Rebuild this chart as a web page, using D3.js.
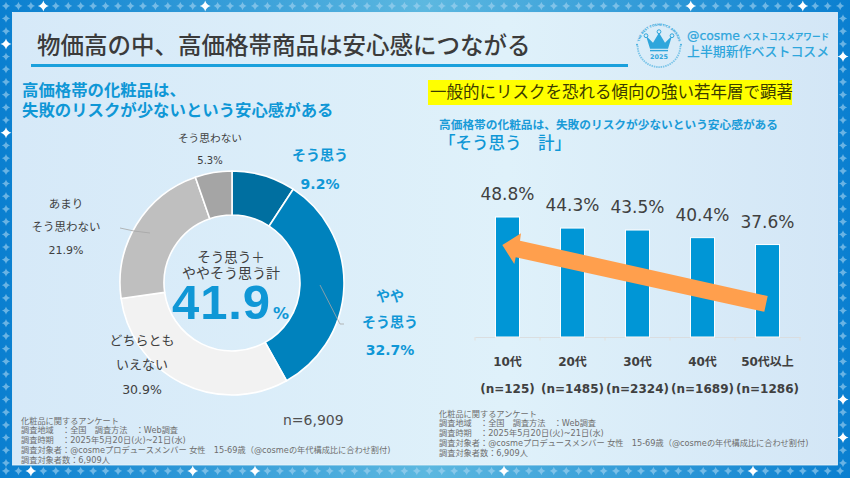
<!DOCTYPE html>
<html><head><meta charset="utf-8">
<script src="https://cdn.jsdelivr.net/npm/d3@7/dist/d3.min.js"></script>
<style>html,body{margin:0;padding:0;background:#fff}svg{display:block}text{font-family:"DejaVu Sans","Noto Sans CJK JP",sans-serif}</style>
</head><body><svg id="c" width="850" height="478"></svg>
<script>
const donutValues=[9.2,32.7,30.9,21.9,5.3];
const donutColors=["#006fa0","#0082bd","#f2f2f2","#bfbfbf","#a5a5a5"];
const ageLabels=["10代","20代","30代","40代","50代以上"];
const ageValues=[48.8,44.3,43.5,40.4,37.6];
const ageSamples=["(n=125)","(n=1485)","(n=2324)","(n=1689)","(n=1286)"];
const noteLines=["化粧品に関するアンケート","調査地域　：全国　調査方法　：Web調査","調査時期　：2025年5月20日(火)~21日(水)","調査対象者：@cosmeプロデュースメンバー 女性　15-69歳（@cosmeの年代構成比に合わせ割付)","調査対象者数：6,909人"];
const svg=d3.select("#c");
const defs=svg.append("defs");
function grad(id,stops){const g=defs.append("linearGradient").attr("id",id);stops.forEach(s=>g.append("stop").attr("offset",s[0]).attr("stop-color",s[1]));}
grad("frame",[[0,"#0a7fd0"],[.5,"#5db8e0"],[1,"#0a7fd0"]]);
grad("panel",[[0,"#d6e9f8"],[.6,"#dff1fa"],[1,"#d3e6f6"]]);
svg.append("rect").attr("width",850).attr("height",478).attr("fill","url(#frame)");
svg.append("rect").attr("x",12.5).attr("y",12.5).attr("width",825).attr("height",452.5).attr("fill","url(#panel)").attr("stroke","#eaf4fb").attr("stroke-width",.8);
function star(x,y,big){const r=big?5.5:4.2,k=.2;svg.append("path").attr("transform",`translate(${x},${y})`)
 .attr("d",`M0,${-r}Q${r*k},${-r*k} ${r},0Q${r*k},${r*k} 0,${r}Q${-r*k},${r*k} ${-r},0Q${-r*k},${-r*k} 0,${-r}Z`)
 .attr("fill",big?"#fff":"#a9d6f2").attr("opacity",big?1:.6);}
const near=(list,v,d)=>list.some(b=>Math.abs(b-v)<d);
d3.range(6,850,12.45).forEach(x=>{star(x,6,near([43,206,693,806],x,6.2));star(x,471,near([31,193,256,506,756],x,6.2));});
d3.range(18.5,466,12.7).forEach(y=>{star(6,y,near([45,135],y,6.3));star(843,y,near([57,394,432],y,6.3));});
function T(x,y,s,size,fill,opt={}){return svg.append("text").attr("x",x).attr("y",y).text(s).attr("font-size",size).attr("fill",fill).attr("text-anchor",opt.a||"start").attr("font-weight",opt.w||400);}
const BLUE="#0f97d6",INK="#404040";
T(37,54,"物価高の中、高価格帯商品は安心感につながる",23.5,"#3b3b3b",{w:500});
svg.append("rect").attr("x",31).attr("y",64).attr("width",597).attr("height",3).attr("fill","#1aa0dc");
T(22,96,"高価格帯の化粧品は、",16.4,BLUE,{w:700});
T(22,116,"失敗のリスクが少ないという安心感がある",16.4,BLUE,{w:700});
// donut
const pie=d3.pie().sort(null).value(d=>d)(donutValues);
const arc=d3.arc().innerRadius(68).outerRadius(112);
svg.append("g").attr("transform","translate(232,283)").selectAll("path").data(pie).join("path").attr("d",arc).attr("fill",(d,i)=>donutColors[i]).attr("stroke","#fff").attr("stroke-width",1.6);
svg.append("path").attr("d","M320,285L340,324L344,324").attr("fill","none").attr("stroke","#a6a6a6").attr("stroke-width",.8);
svg.append("path").attr("d","M120,228L134,231L150,233").attr("fill","none").attr("stroke","#a6a6a6").attr("stroke-width",.8);
T(231,262,"そう思う＋",13.5,INK,{a:"middle"});
T(231,277.5,"ややそう思う計",14,INK,{a:"middle"});
T(172,319,"41.9",49,BLUE,{w:700}).style("font-family","'Liberation Sans'").attr("letter-spacing",.9);
T(273,319,"%",16,BLUE,{w:700});
T(320,160,"そう思う",14,BLUE,{a:"middle",w:700});
T(320,189,donutValues[0].toFixed(1)+"%",14,BLUE,{a:"middle",w:700});
T(390,301,"やや",14,BLUE,{a:"middle",w:700});
T(390,327,"そう思う",14,BLUE,{a:"middle",w:700});
T(390,355,donutValues[1].toFixed(1)+"%",14,BLUE,{a:"middle",w:700});
T(142,345,"どちらとも",13,INK,{a:"middle"});
T(142,369,"いえない",13,INK,{a:"middle"});
T(142,394,donutValues[2].toFixed(1)+"%",12.5,INK,{a:"middle"});
T(66,208,"あまり",11.5,INK,{a:"middle"});
T(66,231,"そう思わない",11.5,INK,{a:"middle"});
T(66,254,donutValues[3].toFixed(1)+"%",11,INK,{a:"middle"});
T(210,142,"そう思わない",10.7,INK,{a:"middle"});
T(210,164,donutValues[4].toFixed(1)+"%",10,INK,{a:"middle"});
T(283,425,"n=6,909",14,"#505050");
function notes(x,y){noteLines.forEach((s,i)=>T(x,y+i*9.8,s,8.2,"#6e6e6e"));}
notes(21,423.5);notes(439,416.5);
// right
svg.append("rect").attr("x",428).attr("y",80).attr("width",364).attr("height",25).attr("fill","#ffff00");
T(430,98,"一般的にリスクを恐れる傾向の強い若年層で顕著",16.5,"#3b3b00");
T(439,129,"高価格帯の化粧品は、失敗のリスクが少ないという安心感がある",11.7,"#1a9bd8",{w:700});
T(439,149,"「そう思う　計」",16.5,BLUE,{w:500});
const x=d3.scaleBand().domain(ageLabels).range([475,800]).paddingInner(.63).paddingOuter(.315);
const y=d3.scaleLinear().domain([0,48.8]).range([337,217]);
const bg=svg.append("g");
bg.append("g").attr("transform","translate(0,337)").call(d3.axisBottom(x).tickSize(0).tickFormat("")).call(g=>g.select(".domain").attr("stroke","#d9d9d9").attr("stroke-width",.8));
const xs=d3.scalePoint().domain(d3.range(6)).range([475,800]);
bg.selectAll("line.t").data(xs.domain()).join("line").attr("x1",d=>xs(d)).attr("x2",d=>xs(d)).attr("y1",337).attr("y2",340.5).attr("stroke","#e4dcd4").attr("stroke-width",.8);
bg.selectAll("rect.b").data(ageValues).join("rect").attr("x",(d,i)=>x(ageLabels[i])).attr("y",d=>y(d)).attr("width",x.bandwidth()).attr("height",d=>337-y(d)).attr("fill","#0096d6").attr("stroke","#fff").attr("stroke-width",1);
ageValues.forEach((v,i)=>{const c=x(ageLabels[i])+x.bandwidth()/2;
 T(c,y(v)-17,v.toFixed(1)+"%",17,INK,{a:"middle"});
 T(c,366,ageLabels[i],12,INK,{a:"middle",w:700});
 T(c,393,ageSamples[i],12,INK,{a:"middle",w:700});});
// arrow annotation
svg.append("path").attr("d","M502.3,245L521,233.3L520,240.7L767.7,296L764.3,311.7L515.7,257.3L514.3,264Z").attr("fill","#ff9f4d");
// logo
const LOGO="#2fa6dc";
const lg=svg.append("g").attr("transform","translate(659,45.7)");
defs.append("path").attr("id","ringT").attr("d","M-20,0A20,20 0 0 1 20,0");
lg.append("text").attr("font-size",3.1).attr("font-weight",700).attr("fill",LOGO).attr("text-anchor","middle").append("textPath").attr("href","#ringT").attr("startOffset","50%").text("THE BEST COSMETICS AWARDS");
[-22,22].forEach(d=>lg.append("circle").attr("cx",d).attr("cy",-1).attr("r",.9).attr("fill",LOGO));
lg.append("path").attr("d","M23,0A23,23 0 0 1 -23,0").attr("fill","none").attr("stroke",LOGO).attr("stroke-width",2).attr("stroke-dasharray","1.6 0.9").attr("opacity",.55).attr("transform","scale(.93)");
lg.append("path").attr("d","M-13,-10L-6,-3L0,-13L6,-3L13,-10L9,3H-9Z").attr("fill",LOGO);
lg.append("rect").attr("x",-9).attr("y",4.2).attr("width",18).attr("height",1.4).attr("fill",LOGO);
[[-13,-10],[0,-14],[13,-10]].forEach(p=>lg.append("circle").attr("cx",p[0]).attr("cy",p[1]).attr("r",1.9).attr("fill","#d9edf8").attr("stroke",LOGO).attr("stroke-width",1));
lg.append("text").attr("y",13).attr("text-anchor","middle").attr("font-size",6.4).attr("font-weight",700).attr("fill",LOGO).text("2025");
T(687,40,"@cosme",12.4,LOGO,{}).attr("stroke",LOGO).attr("stroke-width",.25);
T(743,40,"ベストコスメアワード",8.6,LOGO,{w:700});
T(687,55.5,"上半期新作ベストコスメ",12.9,LOGO,{w:500});
</script></body></html>
